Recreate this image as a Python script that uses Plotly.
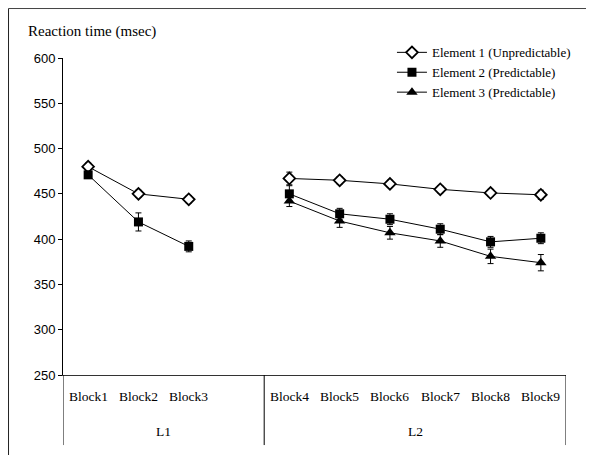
import plotly.graph_objects as go

categories = ["Block1", "Block2", "Block3", "Block4", "Block5", "Block6", "Block7", "Block8", "Block9"]
groups = ["L1", "L1", "L1", "L2", "L2", "L2", "L2", "L2", "L2"]
group_names = ["L1", "L2"]

series_names = ["Element 1 (Unpredictable)", "Element 2 (Predictable)", "Element 3 (Predictable)"]
element1 = [480, 450, 444, 467, 465, 461, 455, 451, 449]
element1_err = [4, 4, 4, 7, 4, 4, 4, 4, 5]
element2 = [471, 419, 392, 450, 428, 422, 411, 397, 401]
element2_err = [4, 10, 6, 9, 6, 6, 6, 6, 6]
element3 = [None, None, None, 442, 420, 407, 398, 381, 374]
element3_err = [0, 0, 0, 6, 7, 7, 7, 8, 9]

y_ticks = [250, 300, 350, 400, 450, 500, 550, 600]

# slot positions: one empty slot after each group (except last)
xpos = []
slot = 0
prev = groups[0]
for g in groups:
    if g != prev:
        slot += 1
        prev = g
    xpos.append(slot)
    slot += 1
n_slots = slot

def with_gaps(vals):
    xs, ys = [], []
    prev_g = groups[0]
    for x, v, g in zip(xpos, vals, groups):
        if g != prev_g:
            xs.append(x - 1)
            ys.append(None)
            prev_g = g
        xs.append(x)
        ys.append(v)
    return xs, ys

def err_gaps(errs):
    out = []
    prev_g = groups[0]
    for e, g in zip(errs, groups):
        if g != prev_g:
            out.append(0)
            prev_g = g
        out.append(e)
    return out

fig = go.Figure()
markers = [
    dict(symbol="diamond", size=9, color="white", line=dict(width=1.8, color="black")),
    dict(symbol="square", size=9, color="black"),
    dict(symbol="triangle-up", size=10, color="black"),
]
for name, vals, errs, mk in zip(series_names, [element1, element2, element3],
                                [element1_err, element2_err, element3_err], markers):
    xs, ys = with_gaps(vals)
    fig.add_trace(go.Scatter(
        x=xs, y=ys, name=name, mode="lines+markers",
        line=dict(color="black", width=1),
        marker=mk,
        error_y=dict(type="data", array=err_gaps(errs), color="black", thickness=1, width=3),
        connectgaps=False,
    ))

serif = "Liberation Serif, Times New Roman, serif"
sans = "Liberation Sans, Arial, sans-serif"

annotations = []
for c, x in zip(categories, xpos):
    annotations.append(dict(x=x, y=-0.0685, xref="x", yref="paper", text=c, showarrow=False,
                            font=dict(family=serif, size=13.5, color="black"), yanchor="middle"))
shapes = []
bounds = [-0.5]
for gname in group_names:
    idx = [xpos[i] for i, g in enumerate(groups) if g == gname]
    if gname != group_names[-1]:
        hi = max(idx) + 1.5
    else:
        hi = n_slots - 0.5
    lo = bounds[-1]
    bounds.append(hi)
    annotations.append(dict(x=(lo + hi) / 2, y=-0.179, xref="x", yref="paper", text=gname, showarrow=False,
                            font=dict(family=serif, size=13.5, color="black"), yanchor="middle"))
for b in bounds:
    shapes.append(dict(type="line", xref="x", yref="paper", x0=b, x1=b, y0=0, y1=-0.221,
                       line=dict(color="black", width=1)))

annotations.append(dict(x=-0.0736, y=1.085, xref="paper", yref="paper", text="Reaction time (msec)",
                        showarrow=False, xanchor="left", yanchor="middle",
                        font=dict(family=serif, size=15, color="black")))

# outer frame (top and left edges)
shapes.append(dict(type="line", xref="paper", yref="paper", x0=-0.1083, x1=1.0417, y0=1.1561, y1=1.1561,
                   line=dict(color="#444", width=1)))
shapes.append(dict(type="line", xref="paper", yref="paper", x0=-0.1083, x1=-0.1083, y0=1.1561, y1=-0.3,
                   line=dict(color="#222", width=1)))

fig.update_layout(
    width=594, height=455,
    margin=dict(l=55, r=36, t=50, b=88),
    paper_bgcolor="white", plot_bgcolor="white",
    showlegend=True,
    legend=dict(x=0.654, y=1.065, xanchor="left", yanchor="top", bgcolor="rgba(0,0,0,0)",
                font=dict(family=serif, size=13, color="black"), tracegroupgap=0, itemwidth=30),
    annotations=annotations,
    shapes=shapes,
    xaxis=dict(range=[-0.5, n_slots - 0.5], showgrid=False, zeroline=False, showticklabels=False,
               showline=True, linecolor="#333", linewidth=1, ticks=""),
    yaxis=dict(range=[250, 600], tickvals=y_ticks, showgrid=False, zeroline=False,
               showline=True, linecolor="black", linewidth=1, ticks="outside", ticklen=4,
               tickcolor="black", tickfont=dict(family=sans, size=13, color="black")),
)

fig.write_html("out.html")
